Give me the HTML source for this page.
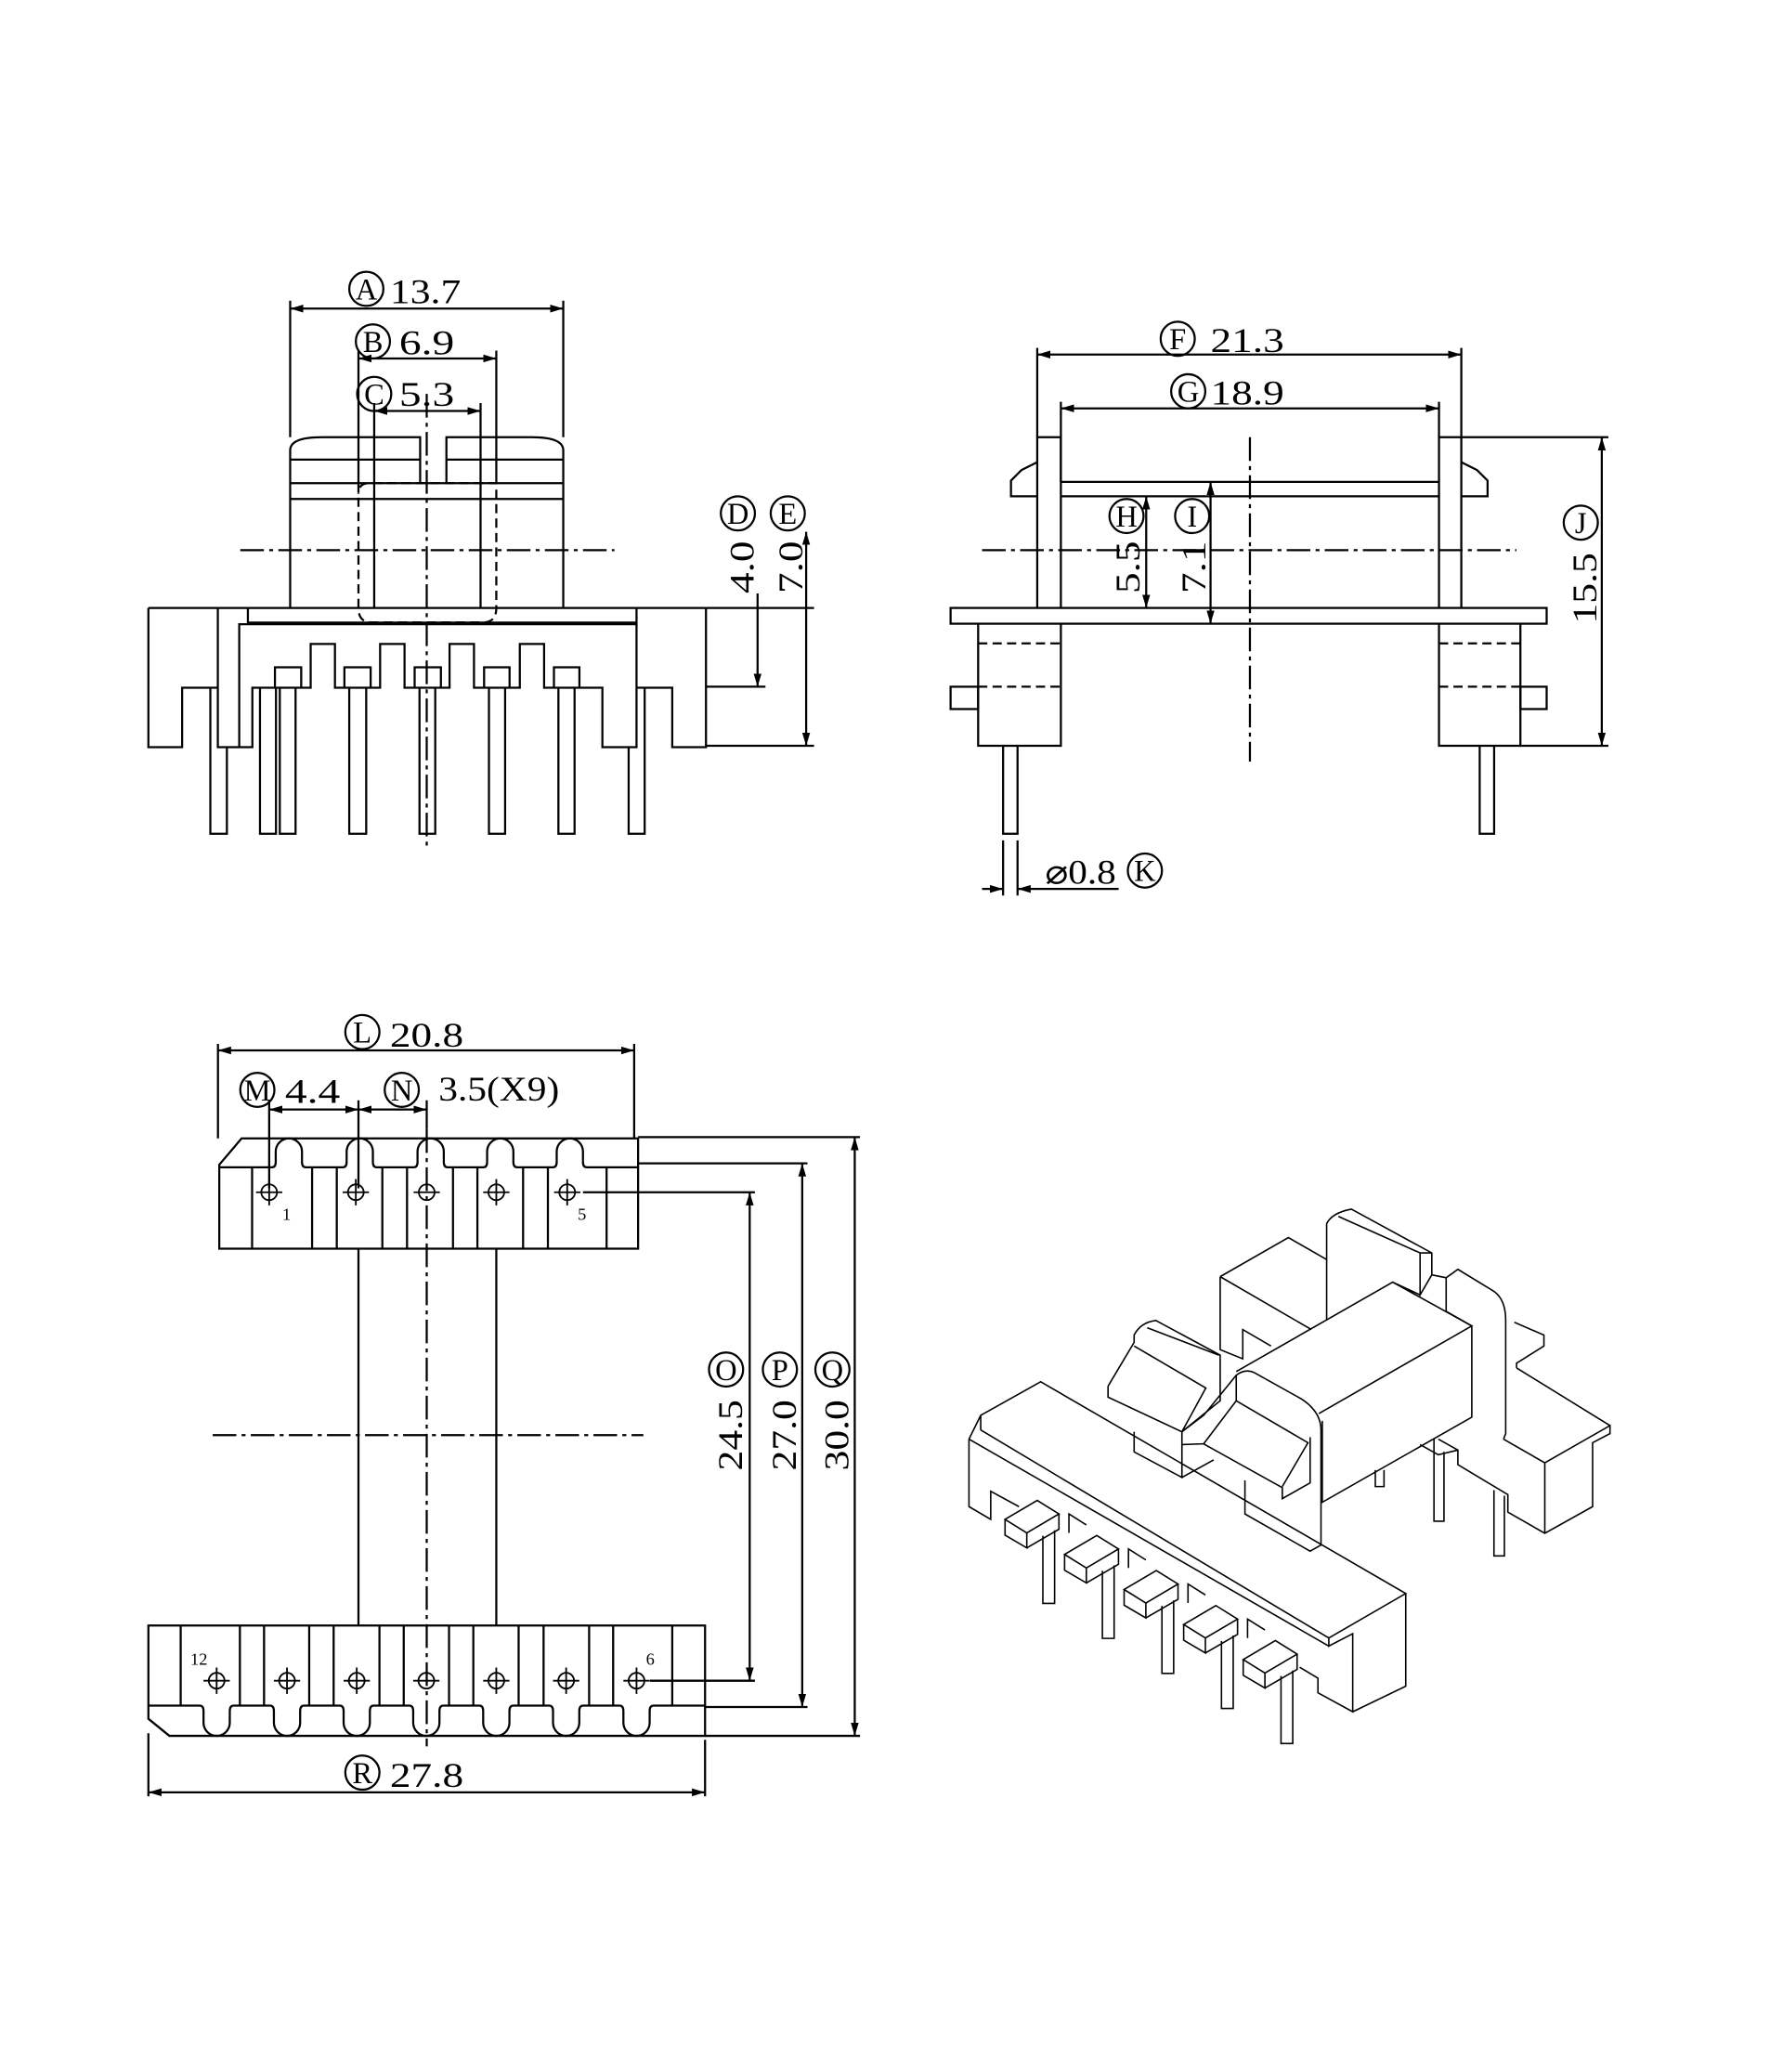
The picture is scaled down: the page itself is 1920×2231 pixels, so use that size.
<!DOCTYPE html>
<html><head><meta charset="utf-8"><style>
html,body{margin:0;padding:0;background:#fff}
svg{display:block}
text{font-family:"Liberation Serif",serif;fill:#000}
.t{font-size:26px}
.c{font-size:23px}
</style></head><body>
<svg width="1920" height="2231" viewBox="0 0 1358 1578" xmlns="http://www.w3.org/2000/svg">
<defs>
<marker id="a" viewBox="0 0 10 6" refX="10" refY="3" markerWidth="10" markerHeight="6" markerUnits="userSpaceOnUse" orient="auto-start-reverse"><path d="M0,0 L10,3 L0,6 Z" fill="#000"/></marker>
</defs>
<g fill="none" stroke="#000" stroke-width="1.6">
<!-- ============ FRONT VIEW ============ -->
<path d="M221,463 V343 Q221,333 245,333 H320 V368 M340,368 V333 H405 Q429,333 429,343 V463"/>
<path d="M221,350 H320 M340,350 H429 M221,368 H429 M221,380 H429"/>
<path d="M285,313 V463 M366,313 V463"/>
<path d="M273,368 V463 Q273,474 283,474 H368 Q378,474 378,463 V368 Q378,368 370,368 H281 Q273,368 273,376" stroke-dasharray="7 4"/>
<path d="M221,229 V333 M429,229 V333 M273,267 V368 M378,267 V368 M285,307 V313 M366,307 V313"/>
<path d="M221,235 H429" marker-start="url(#a)" marker-end="url(#a)"/>
<path d="M273,273 H378" marker-start="url(#a)" marker-end="url(#a)"/>
<path d="M285,313 H366" marker-start="url(#a)" marker-end="url(#a)"/>
<!-- base -->
<path d="M113,463 H538 M113,463 V569 H138.7 V523.8 H165.9 M165.9,463 V569 H182.2 V475.4 H484.8 M188.8,463 V474.2 H484.8 M182.2,569 H192.2 V523.8 H236.6 V490.4 H255.1 V523.8 H289.5 V490.4 H308.1 V523.8 H342.4 V490.4 H361 V523.8 H395.9 V490.4 H414.4 V523.8 H458.8 V569 H484.8 V463 M484.8,523.8 H512 V569 H537.7 V463"/>
<path d="M209.4,523.8 V508.2 H229.4 V523.8 M262.3,523.8 V508.2 H282.3 V523.8 M315.8,523.8 V508.2 H335.8 V523.8 M368.7,523.8 V508.2 H388.1 V523.8 M421.9,523.8 V508.2 H441.3 V523.8"/>
<path d="M160.2,523.8 V635 H172.8 V569 M198,523.8 V635 H210.2 V523.8 M213.1,523.8 V635 H225.1 V523.8 M266,523.8 V635 H278.9 V523.8 M319.5,523.8 V635 H331.5 V523.8 M372.4,523.8 V635 H384.7 V523.8 M425.3,523.8 V635 H437.6 V523.8 M478.8,569 V635 H491 V523.8"/>
<path d="M183,419 H468 M325,300 V645" stroke-dasharray="18 4 3 4"/>
<path d="M538,463 H620 M538,523 H583 M538,568 H620"/>
<path d="M577,452 V523" marker-end="url(#a)"/>
<path d="M614,405 V568" marker-start="url(#a)" marker-end="url(#a)"/>
<circle cx="562" cy="391" r="13"/><circle cx="600" cy="391" r="13"/>
<circle cx="279" cy="220" r="13"/><circle cx="284" cy="260" r="13"/><circle cx="285" cy="300" r="13"/>
<!-- ============ SIDE VIEW ============ -->
<path d="M790,463 V333 H808 V463 M1096,463 V333 H1113 V463"/>
<path d="M790,352 L778,358 L770,366 V378 H790 M1113,352 L1125,358 L1133,366 V378 H1113"/>
<path d="M808,367 H1096 M808,378 H1096"/>
<rect x="724" y="463" width="454" height="12"/>
<path d="M745,475 V568 H808 V475 M1096,475 V568 H1158 V475"/>
<path d="M745,490 H808 M745,523 H808 M1096,490 H1158 M1096,523 H1158" stroke-dasharray="7 4"/>
<rect x="724" y="523" width="21" height="17"/><rect x="1158" y="523" width="20" height="17"/>
<path d="M764,568 V635 H775 V568 M1127,568 V635 H1138 V568"/>
<path d="M952,333 V580 M748,419 H1155" stroke-dasharray="18 4 3 4"/>
<path d="M790,265 V333 M1113,265 V333 M808,306 V367 M1096,306 V333"/>
<path d="M790,270 H1113" marker-start="url(#a)" marker-end="url(#a)"/>
<path d="M808,311 H1096" marker-start="url(#a)" marker-end="url(#a)"/>
<path d="M873,378 V463" marker-start="url(#a)" marker-end="url(#a)"/>
<path d="M922,367 V475" marker-start="url(#a)" marker-end="url(#a)"/>
<path d="M1113,333 H1225 M1158,568 H1225"/>
<path d="M1220,333 V568" marker-start="url(#a)" marker-end="url(#a)"/>
<path d="M764,640 V682 M775,640 V682"/>
<path d="M748,677 H764" marker-end="url(#a)"/>
<path d="M852,677 H775" marker-end="url(#a)"/>
<circle cx="897" cy="258" r="13"/><circle cx="905" cy="298" r="13"/>
<circle cx="858" cy="393" r="13"/><circle cx="908" cy="393" r="13"/>
<circle cx="1204" cy="398" r="13"/><circle cx="872" cy="663" r="13"/>
<!-- ============ TOP VIEW ============ -->
<path d="M167,887 L184,867 H486 V951 H167 Z"/>
<path d="M167,889 H207 Q210,889 210,885 V877 A10,10 0 0 1 230,877 V885 Q230,889 233,889 H261 Q264,889 264,885 V877 A10,10 0 0 1 284,877 V885 Q284,889 287,889 H315 Q318,889 318,885 V877 A10,10 0 0 1 338,877 V885 Q338,889 341,889 H368 Q371,889 371,885 V877 A10,10 0 0 1 391,877 V885 Q391,889 394,889 H421 Q424,889 424,885 V877 A10,10 0 0 1 444,877 V885 Q444,889 447,889 H486"/>
<path d="M192,889 V951 M237.7,889 V951 M256.5,889 V951 M291.2,889 V951 M310,889 V951 M345,889 V951 M363.6,889 V951 M398.4,889 V951 M417.3,889 V951 M462,889 V951"/>
<path d="M273,951 V1238 M378,951 V1238"/>
<path d="M113,1238 H537 V1322 H129 L113,1309 Z"/>
<path d="M113,1299 H152 Q155,1299 155,1303 V1312 A10,10 0 0 0 175,1312 V1303 Q175,1299 178,1299 H205.6 Q208.6,1299 208.6,1303 V1312 A10,10 0 0 0 228.6,1312 V1303 Q228.6,1299 231.6,1299 H258.7 Q261.7,1299 261.7,1303 V1312 A10,10 0 0 0 281.7,1312 V1303 Q281.7,1299 284.7,1299 H311.7 Q314.7,1299 314.7,1303 V1312 A10,10 0 0 0 334.7,1312 V1303 Q334.7,1299 337.7,1299 H365 Q368,1299 368,1303 V1312 A10,10 0 0 0 388,1312 V1303 Q388,1299 391,1299 H418.2 Q421.2,1299 421.2,1303 V1312 A10,10 0 0 0 441.2,1312 V1303 Q441.2,1299 444.2,1299 H471.8 Q474.8,1299 474.8,1303 V1312 A10,10 0 0 0 494.8,1312 V1303 Q494.8,1299 497.8,1299 H537"/>
<path d="M137.6,1238 V1299 M182.7,1238 V1299 M201.1,1238 V1299 M235.5,1238 V1299 M254.1,1238 V1299 M289,1238 V1299 M307.5,1238 V1299 M342,1238 V1299 M360.5,1238 V1299 M395,1238 V1299 M414,1238 V1299 M448.7,1238 V1299 M467,1238 V1299 M512,1238 V1299"/>
<g stroke-width="1.3">
<circle cx="205" cy="908" r="6"/><circle cx="271" cy="908" r="6"/><circle cx="325" cy="908" r="6"/><circle cx="378" cy="908" r="6"/><circle cx="432" cy="908" r="6"/>
<path d="M195,908 H215 M205,898 V918 M261,908 H281 M271,898 V918 M315,908 H335 M368,908 H388 M378,898 V918 M422,908 H442 M432,898 V918"/>
<circle cx="165" cy="1280" r="6"/><circle cx="218.6" cy="1280" r="6"/><circle cx="271.7" cy="1280" r="6"/><circle cx="324.7" cy="1280" r="6"/><circle cx="378" cy="1280" r="6"/><circle cx="431.2" cy="1280" r="6"/><circle cx="484.8" cy="1280" r="6"/>
<path d="M155,1280 H175 M165,1270 V1290 M208.6,1280 H228.6 M218.6,1270 V1290 M261.7,1280 H281.7 M271.7,1270 V1290 M314.7,1280 H334.7 M368,1280 H388 M378,1270 V1290 M421.2,1280 H441.2 M431.2,1270 V1290 M474.8,1280 H494.8 M484.8,1270 V1290"/>
</g>
<path d="M325,860 V1330 M162,1093 H490" stroke-dasharray="18 4 3 4"/>
<path d="M166,795 V867 M483,795 V867"/>
<path d="M166,800 H483" marker-start="url(#a)" marker-end="url(#a)"/>
<path d="M205,838 V905 M273,838 V905 M325,838 V860"/>
<path d="M205,845 H273" marker-start="url(#a)" marker-end="url(#a)"/>
<path d="M273,845 H325" marker-start="url(#a)" marker-end="url(#a)"/>
<path d="M113,1320 V1368 M537,1325 V1368"/>
<path d="M113,1365 H537" marker-start="url(#a)" marker-end="url(#a)"/>
<path d="M444,908 H575 M495,1280 H575 M486,886 H615 M537,1300 H615 M486,866 H655 M537,1322 H655"/>
<path d="M571,908 V1280" marker-start="url(#a)" marker-end="url(#a)"/>
<path d="M611,886 V1300" marker-start="url(#a)" marker-end="url(#a)"/>
<path d="M651,866 V1322" marker-start="url(#a)" marker-end="url(#a)"/>
<circle cx="276" cy="786" r="13"/><circle cx="196" cy="830" r="13"/><circle cx="306" cy="830" r="13"/><circle cx="276" cy="1350" r="13"/>
<circle cx="553" cy="1043" r="13"/><circle cx="594" cy="1043" r="13"/><circle cx="634" cy="1043" r="13"/>
</g>
<!-- ============ ISO VIEW ============ -->
<g transform="translate(716.5,900) scale(0.331,0.278)" fill="none" stroke="#000" stroke-width="1.6">
<path vector-effect="non-scaling-stroke" d="M65,705 L92,640 L230,548 L1070,1128 L893,1250 L893,1272 L948,1238 L948,1452 L868,1400 L868,1360 L826,1330 M948,1452 L1070,1382 L1070,1128 M92,680 L893,1250 M65,705 L893,1272 M65,705 L65,890 L115,925 L115,848 L180,890 M92,640 L92,680"/>
<path vector-effect="non-scaling-stroke" d="M295,962 L295,910 L335,940 M432,1058 L432,1006 L472,1036 M569,1154 L569,1102 L609,1132 M706,1250 L706,1198 L746,1228"/>
<path vector-effect="non-scaling-stroke" d="M148,925 L222,873 L272,910 L198,962 Z M148,925 L148,968 L198,1003 L198,962 M198,1003 L272,952 L272,910 M235,970 L235,1155 L262,1155 L262,955"/>
<path vector-effect="non-scaling-stroke" d="M285,1021 L359,969 L409,1006 L335,1058 Z M285,1021 L285,1064 L335,1099 L335,1058 M335,1099 L409,1048 L409,1006 M372,1066 L372,1251 L399,1251 L399,1051"/>
<path vector-effect="non-scaling-stroke" d="M422,1117 L496,1065 L546,1102 L472,1154 Z M422,1117 L422,1160 L472,1195 L472,1154 M472,1195 L546,1144 L546,1102 M509,1162 L509,1347 L536,1347 L536,1147"/>
<path vector-effect="non-scaling-stroke" d="M559,1213 L633,1161 L683,1198 L609,1250 Z M559,1213 L559,1256 L609,1291 L609,1250 M609,1291 L683,1240 L683,1198 M646,1258 L646,1443 L673,1443 L673,1243"/>
<path vector-effect="non-scaling-stroke" d="M696,1309 L770,1257 L820,1294 L746,1346 Z M696,1309 L696,1352 L746,1387 L746,1346 M746,1387 L820,1336 L820,1294 M783,1354 L783,1539 L810,1539 L810,1339"/>
<path vector-effect="non-scaling-stroke" d="M643,260 L800,153 L888,213 M643,260 L643,460 L695,485 L695,405 L760,450 M643,260 L853,405"/>
<path vector-effect="non-scaling-stroke" d="M888,380 L888,115 Q900,85 945,75 L1130,195 L1130,255 L1103,310 L1103,195 L915,95 M1103,195 L1130,195 M1130,255 L1163,263"/>
<path vector-effect="non-scaling-stroke" d="M680,520 L1040,275 L1103,310 M870,635 L1222,395 L1040,275 M1222,395 L1222,645 L878,878 L878,655"/>
<path vector-effect="non-scaling-stroke" d="M555,685 L605,640 L680,530 Q700,512 720,522 L830,595 Q875,630 875,680 L875,995 L850,1012 L700,910 L700,818 M605,718 L786,838 L786,868 L850,825 L850,700 M680,600 L845,715 L786,835 M605,718 L680,600 L680,530"/>
<path vector-effect="non-scaling-stroke" d="M385,560 L445,440 L445,420 Q460,385 495,380 L643,475 L643,600 L555,685 L555,720 L605,718 M385,560 L385,590 L555,685 M445,450 L610,565 L555,685 M475,400 L640,475 M445,685 L445,740 L555,810 L555,700 M555,810 L628,762"/>
<path vector-effect="non-scaling-stroke" d="M1163,355 L1163,263 L1190,240 L1270,298 Q1300,320 1300,380 L1300,690 L1295,705 M1163,355 L1222,395 M1295,705 L1390,770 L1540,668 L1540,690 L1500,715 L1500,890 L1390,963 L1305,905 L1305,857 L1190,775 L1190,735 L1145,705 M1325,510 L1540,668 M1320,385 L1388,420 L1388,450 L1325,497 L1325,510 M1390,770 L1390,963"/>
<path vector-effect="non-scaling-stroke" d="M1000,790 L1000,835 L1020,835 L1020,790 M1135,705 L1135,930 L1158,930 L1158,740 M1273,845 L1273,1025 L1297,1025 L1297,860 M1103,720 L1145,748 L1190,735"/>
</g>
<!-- ============ TEXT ============ -->
<g text-anchor="middle" class="c">
<text x="279" y="228">A</text><text x="284" y="268">B</text><text x="285" y="308">C</text>
<text x="562" y="399">D</text><text x="600" y="399">E</text>
<text x="897" y="266">F</text><text x="905" y="306">G</text>
<text x="858" y="401">H</text><text x="908" y="401">I</text><text x="1204" y="406">J</text><text x="872" y="671">K</text>
<text x="276" y="794">L</text><text x="196" y="838">M</text><text x="306" y="838">N</text><text x="276" y="1358">R</text>
<text x="553" y="1051">O</text><text x="594" y="1051">P</text><text x="634" y="1051">Q</text>
</g>
<g class="t">
<text x="297" y="231" textLength="54" lengthAdjust="spacingAndGlyphs">13.7</text>
<text x="304" y="270" textLength="42" lengthAdjust="spacingAndGlyphs">6.9</text>
<text x="304" y="309" textLength="42" lengthAdjust="spacingAndGlyphs">5.3</text>
<text x="922" y="268" textLength="56" lengthAdjust="spacingAndGlyphs">21.3</text>
<text x="922" y="308" textLength="56" lengthAdjust="spacingAndGlyphs">18.9</text>
<text x="796" y="673" textLength="54" lengthAdjust="spacingAndGlyphs">⌀0.8</text>
<text x="297" y="797" textLength="56" lengthAdjust="spacingAndGlyphs">20.8</text>
<text x="217" y="840" textLength="42" lengthAdjust="spacingAndGlyphs">4.4</text>
<text x="334" y="838" textLength="92" lengthAdjust="spacingAndGlyphs">3.5(X9)</text>
<text x="297" y="1361" textLength="56" lengthAdjust="spacingAndGlyphs">27.8</text>
<text transform="translate(574,432) rotate(-90)" text-anchor="middle" textLength="40" lengthAdjust="spacingAndGlyphs">4.0</text>
<text transform="translate(611,432) rotate(-90)" text-anchor="middle" textLength="40" lengthAdjust="spacingAndGlyphs">7.0</text>
<text transform="translate(868,432) rotate(-90)" text-anchor="middle" textLength="40" lengthAdjust="spacingAndGlyphs">5.5</text>
<text transform="translate(918,432) rotate(-90)" text-anchor="middle" textLength="40" lengthAdjust="spacingAndGlyphs">7.1</text>
<text transform="translate(1216,448) rotate(-90)" text-anchor="middle" textLength="54" lengthAdjust="spacingAndGlyphs">15.5</text>
<text transform="translate(565,1093) rotate(-90)" text-anchor="middle" textLength="54" lengthAdjust="spacingAndGlyphs">24.5</text>
<text transform="translate(606,1093) rotate(-90)" text-anchor="middle" textLength="54" lengthAdjust="spacingAndGlyphs">27.0</text>
<text transform="translate(646,1093) rotate(-90)" text-anchor="middle" textLength="54" lengthAdjust="spacingAndGlyphs">30.0</text>
</g>
<g font-size="13">
<text x="215" y="929">1</text><text x="440" y="929">5</text>
<text x="145" y="1268">12</text><text x="492" y="1268">6</text>
</g>
</svg>
</body></html>
